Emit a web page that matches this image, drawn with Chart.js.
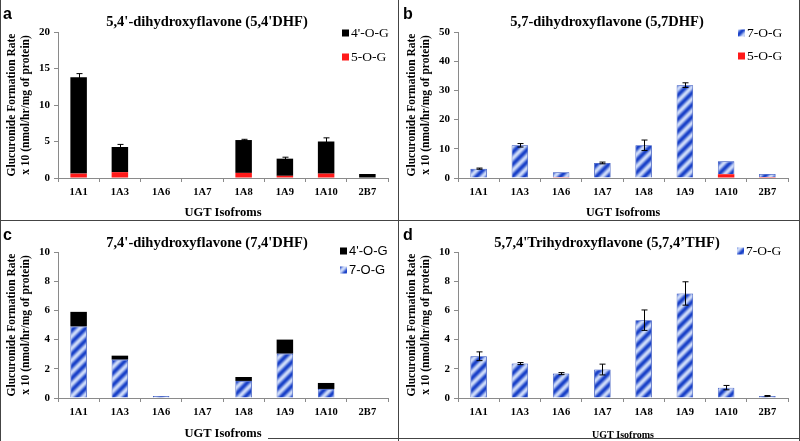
<!DOCTYPE html>
<html>
<head>
<script src="https://cdn.jsdelivr.net/npm/chart.js@4.4.1/dist/chart.umd.min.js"></script>
<style>
  body { margin:0; background:#fff; width:800px; height:441px; position:relative; overflow:hidden; }
  .pan { position:absolute; width:398px; }
  .ln { position:absolute; background:#444; }
</style>
<script>
// UGT isoforms on the x axis of every panel
var isoforms = ['1A1','1A3','1A6','1A7','1A8','1A9','1A10','2B7'];

// a: 5,4'-DHF
var dhf54_5OG = [0.6, 0.8, 0, 0, 0.7, 0.3, 0.6, 0];
var dhf54_4OG = [13.2, 3.45, 0, 0, 4.5, 2.35, 4.4, 0.55];
var dhf54_err = [0.5, 0.35, 0, 0, 0.1, 0.2, 0.5, 0];

// b: 5,7-DHF
var dhf57_5OG = [0, 0, 0.25, 0, 0, 0, 1.3, 0.3];
var dhf57_7OG = [3.2, 11.2, 1.7, 5.15, 11.2, 31.8, 4.4, 1.1];
var dhf57_err = [0.2, 0.6, 0, 0.3, 1.8, 0.8, 0, 0];

// c: 7,4'-DHF
var dhf74_7OG = [4.9, 2.63, 0.14, 0, 1.17, 3.04, 0.62, 0];
var dhf74_4OG = [1.0, 0.27, 0, 0, 0.27, 0.96, 0.41, 0];

// d: 5,7,4'-THF
var thf_7OG = [2.86, 2.36, 1.67, 1.95, 5.33, 7.16, 0.71, 0.14];
var thf_err = [0.3, 0.07, 0.07, 0.37, 0.7, 0.8, 0.15, 0.03];

var serif = "'Liberation Serif', 'Times New Roman', serif";
var sans = "'Liberation Sans', Arial, sans-serif";

// blue diagonal stripes with soft shading
function stripes(ctx) {
  var p = 12, c = document.createElement('canvas');
  c.width = c.height = p;
  var g = c.getContext('2d'), im = g.createImageData(p, p);
  var dark = [25, 65, 200], light = [205, 218, 248];
  for (var y = 0; y < p; y++) {
    for (var x = 0; x < p; x++) {
      var t = ((x + y) % p) / p;
      var k = 0.5 - 0.5 * Math.cos(2 * Math.PI * t);
      var i = (y * p + x) * 4;
      for (var j = 0; j < 3; j++) im.data[i + j] = Math.round(dark[j] + (light[j] - dark[j]) * k);
      im.data[i + 3] = 255;
    }
  }
  g.putImageData(im, 0, 0);
  return ctx.createPattern(c, 'repeat');
}

var panelText = {
  id: 'panelText',
  afterDraw: function(chart, args, o) {
    var ctx = chart.ctx;
    ctx.save();
    ctx.fillStyle = '#000';
    ctx.font = 'bold 16px ' + sans;
    ctx.textAlign = 'left';
    ctx.textBaseline = 'alphabetic';
    ctx.fillText(o.tag, 3, 19);
    ctx.font = 'bold 14.5px ' + serif;
    ctx.textAlign = 'center';
    ctx.fillText(o.title, chart.width / 2 + 8, 26);
    // legend, top item = last stacked dataset
    var ds = chart.data.datasets.slice().reverse();
    ctx.font = o.legendFont;
    ctx.textAlign = 'left';
    ctx.textBaseline = 'middle';
    ds.forEach(function(d, i) {
      var y = o.legendY + i * o.legendDy;
      ctx.fillStyle = d.backgroundColor;
      ctx.fillRect(o.legendX, y - 3.5, 7, 7);
      ctx.fillStyle = '#000';
      ctx.fillText(d.label, o.legendX + 9, y + 0.5);
    });
    ctx.restore();
  },
  afterDatasetsDraw: function(chart, args, o) {
    if (!o.err) return;
    var ctx = chart.ctx, xs = chart.scales.x, ys = chart.scales.y;
    ctx.save();
    ctx.strokeStyle = '#000';
    ctx.lineWidth = 1;
    o.err.forEach(function(e, i) {
      if (!e) return;
      var tot = 0;
      chart.data.datasets.forEach(function(d) { tot += d.data[i]; });
      var px = Math.round(xs.getPixelForValue(i)) + 0.5;
      var y1 = ys.getPixelForValue(tot + e), y2 = ys.getPixelForValue(tot - e);
      ctx.beginPath();
      ctx.moveTo(px, y1); ctx.lineTo(px, y2);
      ctx.moveTo(px - 3, y1); ctx.lineTo(px + 3, y1);
      ctx.moveTo(px - 3, y2); ctx.lineTo(px + 3, y2);
      ctx.stroke();
    });
    ctx.restore();
  }
};

function makeChart(id, datasets, ymax, step, text) {
  var ctx = document.getElementById(id).getContext('2d');
  datasets.forEach(function(d) {
    if (d.backgroundColor === 'stripes') {
      d.backgroundColor = stripes(ctx);
      d.borderColor = '#2446b8';
      d.borderWidth = 0.8;
    } else {
      d.borderWidth = 0;
    }
    d.barPercentage = 0.4;
    d.categoryPercentage = 1;
  });
  return new Chart(ctx, {
    type: 'bar',
    data: { labels: isoforms, datasets: datasets },
    plugins: [panelText],
    options: {
      responsive: true,
      maintainAspectRatio: false,
      animation: false,
      layout: { padding: { top: text.top, right: 10, left: 0, bottom: 0 } },
      plugins: { legend: { display: false }, tooltip: { enabled: false }, panelText: text },
      scales: {
        x: {
          stacked: true,
          afterFit: function(s) { s.height = text.xh; },
          grid: { drawOnChartArea: false, tickLength: 4, color: '#8a8a8a' },
          border: { color: '#8a8a8a' },
          ticks: { color: '#000', padding: 4, font: { family: serif, weight: 'bold', size: 10.5 } },
          title: { display: true, text: 'UGT Isofroms', color: '#000', padding: { top: 3, bottom: 0 },
                   font: { family: serif, weight: 'bold', size: text.xtSize } }
        },
        y: {
          stacked: true,
          min: 0, max: ymax,
          afterFit: function(s) { s.width = 58; },
          grid: { drawOnChartArea: false, tickLength: 4, color: '#8a8a8a' },
          border: { color: '#8a8a8a' },
          ticks: { stepSize: step, color: '#000', padding: 4, font: { family: serif, weight: 'bold', size: 11 } },
          title: { display: true, color: '#000', padding: { top: 5, bottom: 0 },
                   text: ['Glucuronide Formation Rate', 'x 10 (nmol/hr/mg of protein)'],
                   font: { family: serif, weight: 'bold', size: 11.5 } }
        }
      }
    }
  });
}

window.addEventListener('load', function() {
  var legSerif = '13.5px ' + serif;
  makeChart('ca', [
    { label: '5-O-G', data: dhf54_5OG, backgroundColor: '#ff1a1a' },
    { label: "4'-O-G", data: dhf54_4OG, backgroundColor: '#000000' }
  ], 20, 5, { tag: 'a', title: "5,4'-dihydroxyflavone (5,4'DHF)", err: dhf54_err, top: 32, xh: 42, xtSize: 12.5,
              legendX: 342, legendY: 33, legendDy: 24, legendFont: legSerif });
  makeChart('cb', [
    { label: '5-O-G', data: dhf57_5OG, backgroundColor: '#ff1a1a' },
    { label: '7-O-G', data: dhf57_7OG, backgroundColor: 'stripes' }
  ], 50, 10, { tag: 'b', title: '5,7-dihydroxyflavone (5,7DHF)', err: dhf57_err, top: 32, xh: 42, xtSize: 12,
              legendX: 338, legendY: 33, legendDy: 23, legendFont: legSerif });
  makeChart('cc', [
    { label: '7-O-G', data: dhf74_7OG, backgroundColor: 'stripes' },
    { label: "4'-O-G", data: dhf74_4OG, backgroundColor: '#000000' }
  ], 10, 2, { tag: 'c', title: "7,4'-dihydroxyflavone (7,4'DHF)", err: null, top: 31, xh: 43, xtSize: 12.5,
              legendX: 340, legendY: 30, legendDy: 19, legendFont: '13px ' + sans });
  makeChart('cd', [
    { label: '7-O-G', data: thf_7OG, backgroundColor: 'stripes' }
  ], 10, 2, { tag: 'd', title: "5,7,4'Trihydroxyflavone (5,7,4\u2019THF)", err: thf_err, top: 31, xh: 43, xtSize: 10,
              legendX: 337, legendY: 30, legendDy: 19, legendFont: legSerif });
});
</script>
</head>
<body>
  <div class="pan" style="left:0;top:0;height:220px"><canvas id="ca"></canvas></div>
  <div class="pan" style="left:400px;top:0;height:220px"><canvas id="cb"></canvas></div>
  <div class="pan" style="left:0;top:221px;height:220px"><canvas id="cc"></canvas></div>
  <div class="pan" style="left:400px;top:221px;height:220px"><canvas id="cd"></canvas></div>
  <div class="ln" style="left:0;top:0;width:1px;height:441px"></div>
  <div class="ln" style="left:398px;top:0;width:1px;height:441px"></div>
  <div class="ln" style="left:799px;top:0;width:1px;height:441px"></div>
  <div class="ln" style="left:0;top:220px;width:800px;height:1px"></div>
  <div class="ln" style="left:268px;top:438px;width:532px;height:1px"></div>
</body>
</html>
